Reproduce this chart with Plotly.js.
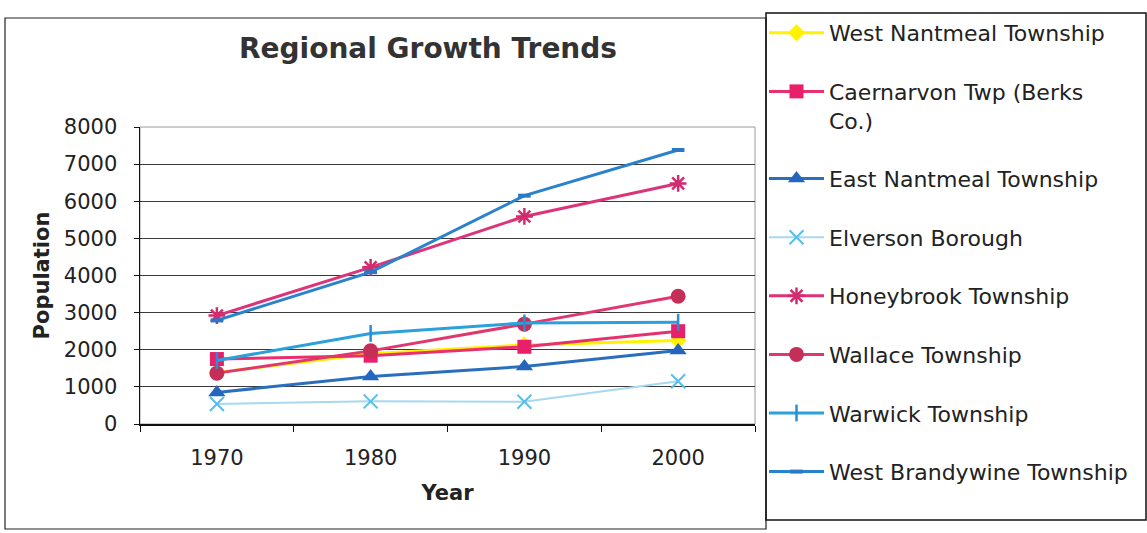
<!DOCTYPE html>
<html>
<head>
<meta charset="utf-8">
<script src="https://cdn.plot.ly/plotly-3.0.1.min.js"></script>
<style>html,body{margin:0;padding:0;background:#fff;}#chart{width:1147px;height:533px;}</style>
</head>
<body>
<div id="chart"></div>
<script>
var years = ['1970', '1980', '1990', '2000'];
var yTicks = [0, 1000, 2000, 3000, 4000, 5000, 6000, 7000, 8000];

var westNantmeal   = [1390, 1890, 2130, 2250];
var caernarvon     = [1750, 1840, 2080, 2500];
var eastNantmeal   = [850, 1280, 1550, 1980];
var elverson       = [540, 610, 600, 1150];
var honeybrook     = [2920, 4220, 5590, 6480];
var wallace        = [1370, 1970, 2690, 3440];
var warwick        = [1710, 2440, 2720, 2740];
var westBrandywine = [2790, 4090, 6150, 7380];

var names = ['West Nantmeal Township', 'Caernarvon Twp (Berks<br>Co.)', 'East Nantmeal Township',
  'Elverson Borough', 'Honeybrook Township', 'Wallace Township', 'Warwick Township', 'West Brandywine Township'];
var series = [westNantmeal, caernarvon, eastNantmeal, elverson, honeybrook, wallace, warwick, westBrandywine];

var styles = [
  {line: '#FFF200', width: 3, sym: 'diamond', size: 13, mc: '#FFF200', mlw: 0},
  {line: '#E8306E', width: 3, sym: 'square', size: 14, mc: '#E8206A', mlw: 0},
  {line: '#2A6EBE', width: 3, sym: 'triangle-up', size: 15, mc: '#2466BE', mlw: 0},
  {line: '#A6D8F0', width: 2, sym: 'x-thin-open', size: 14, mc: '#58BEEA', mlw: 2},
  {line: '#DC3478', width: 3, sym: 'asterisk-open', size: 14, mc: '#D42A6E', mlw: 2.5},
  {line: '#E0386E', width: 3, sym: 'circle', size: 15, mc: '#C42F58', mlw: 0},
  {line: '#2AA0DC', width: 3, sym: 'line-ns-open', size: 12, mc: '#2A8ED4', mlw: 2.5},
  {line: '#2A82CC', width: 3, sym: 'line-ew-open', size: 9, mc: '#2A78C8', mlw: 4}
];

var traces = series.map(function (vals, i) {
  var s = styles[i];
  return {
    x: years, y: vals, type: 'scatter', mode: 'lines+markers', name: names[i],
    legendgroup: 'g' + i,
    line: {color: s.line, width: s.width},
    marker: {symbol: s.sym, size: s.size, color: s.mc, line: {color: s.mc, width: s.mlw}}
  };
});

var W = 1147, H = 533, L = 140, R = 755, T = 127, B = 424;
function px(x) { return (x - L) / (R - L); }
function py(y) { return (B - y) / (B - T); }

var layout = {
  width: W, height: H,
  margin: {l: L, r: W - R, t: T, b: H - B},
  paper_bgcolor: '#ffffff', plot_bgcolor: '#ffffff',
  font: {family: 'DejaVu Sans, Verdana, sans-serif', color: '#222', size: 21},
  title: {text: '<b>Regional Growth Trends</b>', font: {size: 28, color: '#333', family: 'DejaVu Sans'},
          x: 428 / W, xanchor: 'center', y: 1 - 48 / H, yanchor: 'middle', xref: 'container', yref: 'container'},
  xaxis: {
    type: 'category', categoryarray: years, range: [-0.5, 3.5],
    showline: true, linecolor: '#111', linewidth: 1.5,
    ticks: 'outside', tickson: 'boundaries', ticklen: 6, tickcolor: '#111',
    ticklabelstandoff: 14,
    showgrid: false, zeroline: false,
    tickfont: {size: 21, color: '#222'},
    title: {text: '<b>Year</b>', font: {size: 21, color: '#222'}, standoff: 16}
  },
  yaxis: {
    range: [0, 8000], tickvals: yTicks, ticktext: yTicks.map(String),
    showline: true, linecolor: '#111', linewidth: 1.5,
    ticks: 'outside', ticklen: 5, tickcolor: '#111',
    ticklabelstandoff: 12,
    showgrid: true, gridcolor: '#3a3a3a', gridwidth: 1, zeroline: false,
    tickfont: {size: 21, color: '#222'},
    title: {text: '<b>Population</b>', font: {size: 21, color: '#222'}, standoff: 8}
  },
  showlegend: true,
  legend: {
    x: px(764), xanchor: 'left', y: py(12), yanchor: 'top',
    bgcolor: 'rgba(0,0,0,0)', borderwidth: 0,
    font: {size: 22, color: '#222', family: 'DejaVu Sans'},
    tracegroupgap: 27, itemwidth: 55, valign: 'top', maxheight: 600
  },
  shapes: [
    {type: 'rect', xref: 'paper', yref: 'paper', x0: 0, x1: 1, y0: 0, y1: 1,
     line: {color: '#9a9a9a', width: 1}, layer: 'below'},
    {type: 'rect', xref: 'paper', yref: 'paper', x0: px(5), x1: px(766), y0: py(529), y1: py(18),
     line: {color: '#222', width: 1.2}},
    {type: 'rect', xref: 'paper', yref: 'paper', x0: px(766), x1: px(1146), y0: py(520), y1: py(13),
     line: {color: '#111', width: 1.5}}
  ]
};

Plotly.newPlot('chart', traces, layout, {displayModeBar: false, staticPlot: true});
</script>
</body>
</html>
